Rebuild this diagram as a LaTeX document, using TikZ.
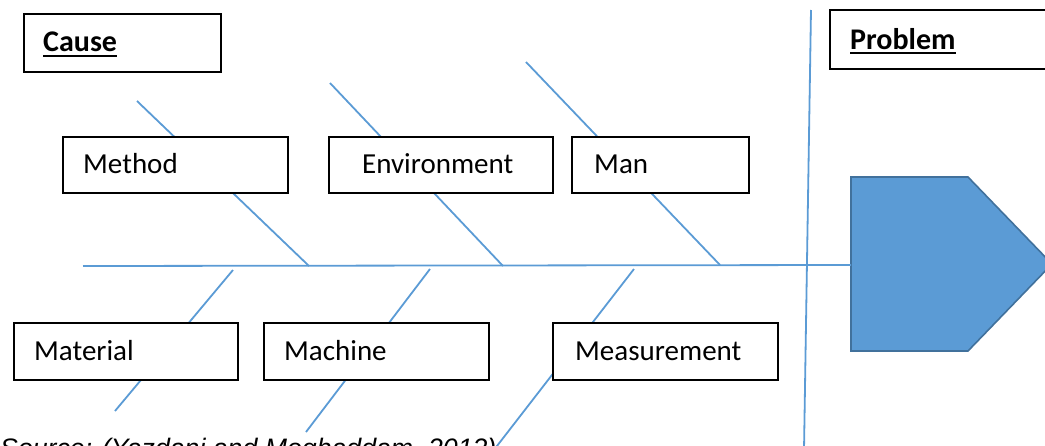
\documentclass[tikz,border=0pt]{standalone}
\usepackage{fontspec}
\setmainfont{Carlito}
\newfontfamily\sourcefont{Liberation Sans}
\usetikzlibrary{calc}
\definecolor{bonecol}{HTML}{5B9BD5}
\definecolor{headedge}{HTML}{41719C}
\begin{document}
\begin{tikzpicture}[x=1pt,y=-1pt,
  bone/.style={draw=bonecol, line width=1.8pt},
  catbox/.style={draw=black, line width=1.8pt, fill=white, anchor=north west, inner sep=0pt},
  lbl/.style={anchor=base west, inner sep=0pt, font=\fontsize{29}{34}\selectfont},
  hdr/.style={anchor=base west, inner sep=0pt, font=\bfseries\fontsize{30}{34}\selectfont},
  uline/.style={draw=black, line width=2.6pt}]
\useasboundingbox (0,0) rectangle (1045,445);
\clip (0,0) rectangle (1045,445);

% spine, head and divider
\coordinate (tail) at (83,266);
\coordinate (head) at (851,265);
\coordinate (vtop) at (811,10);
\coordinate (vbot) at (804,450);
\path[draw=headedge, fill=bonecol, line width=1.6pt]
  (851,177) -- (968,177) -- (1052,264) -- (968,351) -- (851,351) -- cycle;
\draw[bone] (tail) -- (head);
\draw[bone] (vtop) -- (vbot);

% upper bones
\coordinate (jmethod) at (309,266);  \coordinate (emethod) at (137,101);
\coordinate (jenv) at (503,266);     \coordinate (eenv) at (330,83);
\coordinate (jman) at (720,265);     \coordinate (eman) at (526,62);
\draw[bone] (jmethod) -- (emethod);
\draw[bone] (jenv) -- (eenv);
\draw[bone] (jman) -- (eman);

% lower bones
\coordinate (jmat) at (233,270);     \coordinate (emat) at (115,411);
\coordinate (jmach) at (430,269);    \coordinate (emach) at (306,432);
\coordinate (jmeas) at (634,269);    \coordinate (emeas) at (490,455);
\draw[bone] (jmat) -- (emat);
\draw[bone] (jmach) -- (emach);
\draw[bone] (jmeas) -- (emeas);

% cause boxes
\node[catbox, minimum width=225pt, minimum height=56pt] (method) at (62,136) {};
\node[catbox, minimum width=224pt, minimum height=56pt] (env) at (328,136) {};
\node[catbox, minimum width=177pt, minimum height=56pt] (man) at (571,136) {};
\node[catbox, minimum width=224pt, minimum height=57pt] (mat) at (13,322) {};
\node[catbox, minimum width=225pt, minimum height=57pt] (mach) at (263,322) {};
\node[catbox, minimum width=225pt, minimum height=57pt] (meas) at (552,322) {};

\node[lbl] (tmethod) at (83,173) {Method};
\node[lbl] (tenv) at (362,173) {Environment};
\node[lbl] (tman) at (594,173) {Man};
\node[lbl] (tmat) at (34,360) {Material};
\node[lbl] (tmach) at (284,360) {Machine};
\node[lbl] (tmeas) at (575,360) {Measurement};

% header boxes
\node[catbox, minimum width=197pt, minimum height=58pt] (causebox) at (23,13) {};
\node[catbox, minimum width=225pt, minimum height=59pt] (probbox) at (829,9) {};
\node[hdr] (causetxt) at (43,51) {Cause};
\node[hdr] (probtxt) at (850,49) {Problem};
\draw[uline] ($(causetxt.base west)+(0,5)$) -- ($(causetxt.base east)+(0,5)$);
\draw[uline] ($(probtxt.base west)+(0,4)$) -- ($(probtxt.base east)+(0,4)$);

% source line
\node[anchor=base west, inner sep=0pt, font=\sourcefont\itshape\fontsize{26.7}{30}\selectfont]
  (source) at (0,457) {Source: (Yazdani and Moghaddam, 2012)};
\end{tikzpicture}
\end{document}
